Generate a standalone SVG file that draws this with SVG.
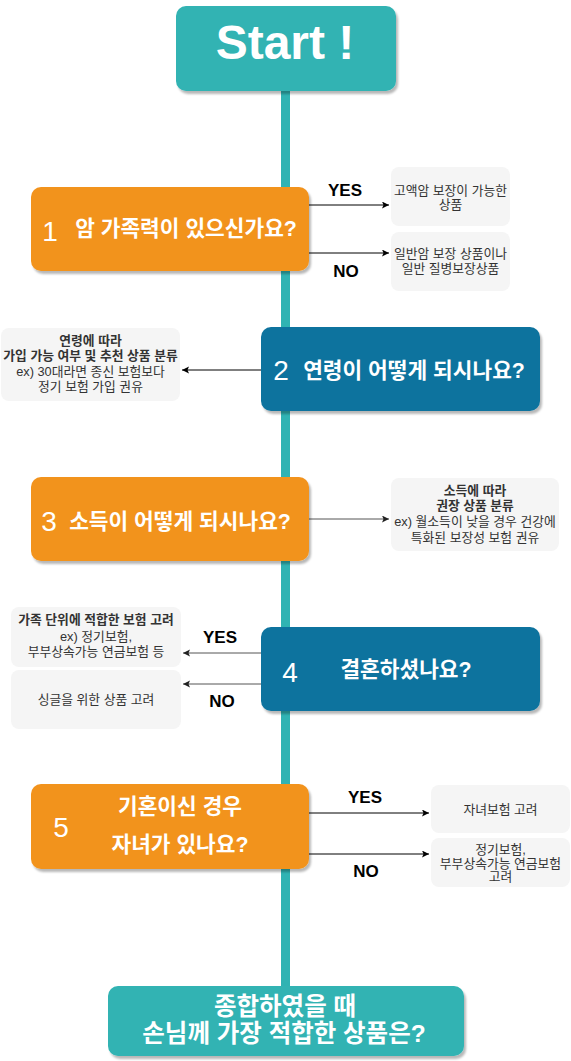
<svg xmlns="http://www.w3.org/2000/svg" width="571" height="1061" viewBox="0 0 571 1061">
<style>
.q{font-family:"Liberation Sans","Noto Sans CJK KR",sans-serif;font-weight:bold;fill:#fff;text-anchor:middle}
.t{font-size:21.4px}
.num{font-family:"Liberation Sans","Noto Sans CJK KR",sans-serif;font-size:28px;fill:#fff;text-anchor:middle}
.s{font-family:"Liberation Sans","Noto Sans CJK KR",sans-serif;font-size:12.8px;fill:#333;text-anchor:middle}
.b{font-weight:bold}
.lbl{font-family:"Liberation Sans","Noto Sans CJK KR",sans-serif;font-size:17px;font-weight:bold;fill:#000;text-anchor:middle}
.gray{fill:#f5f5f5}
.teal{fill:#30b3b3}
.orange{fill:#f2931e}
.blue{fill:#10739e}
.ln{stroke:#000;stroke-width:1;fill:none}
.ln2{stroke:#555;stroke-width:1;fill:none}
</style>
<defs>
<filter id="sh" x="-10%" y="-10%" width="130%" height="140%">
<feDropShadow dx="2" dy="3" stdDeviation="0.8" flood-color="#000" flood-opacity="0.28"/>
</filter>
<marker id="ah" markerUnits="userSpaceOnUse" markerWidth="8" markerHeight="8" viewBox="0 0 8 8" refX="7" refY="3.5" orient="auto">
<path d="M0,0 L7,3.5 L0,7 L1.5,3.5 z" fill="#000"/>
</marker>
<marker id="ah2" markerUnits="userSpaceOnUse" markerWidth="8" markerHeight="8" viewBox="0 0 8 8" refX="7" refY="3.5" orient="auto">
<path d="M0,0 L7,3.5 L0,7 L1.5,3.5 z" fill="#222"/>
</marker>
</defs>
<rect x="281" y="88" width="9" height="900" class="teal"/>
<g id="connectors">
<path class="ln" d="M309,205 H389" marker-end="url(#ah)"/>
<path class="ln" d="M309,253 H389" marker-end="url(#ah)"/>
<path class="ln" d="M261,370 H182" marker-end="url(#ah)"/>
<path class="ln2" d="M309,519 H389" marker-end="url(#ah2)"/>
<path class="ln2" d="M261,653 H183" marker-end="url(#ah2)"/>
<path class="ln2" d="M261,684 H183" marker-end="url(#ah2)"/>
<path class="ln" d="M309,813 H429" marker-end="url(#ah)"/>
<path class="ln" d="M309,854 H429" marker-end="url(#ah)"/>
<text class="lbl" x="345" y="196">YES</text>
<text class="lbl" x="346" y="277">NO</text>
<text class="lbl" x="220" y="643">YES</text>
<text class="lbl" x="222" y="707">NO</text>
<text class="lbl" x="365" y="803">YES</text>
<text class="lbl" x="366" y="877">NO</text>
</g>
<g id="start">
<rect x="176" y="6" width="220" height="85" rx="10" class="teal" filter="url(#sh)"/>
<text class="q" x="285" y="59" style="font-size:48px">Start !</text>
</g>
<g id="q1">
<rect x="31" y="187" width="278" height="84" rx="10" class="orange" filter="url(#sh)"/>
<text class="num" x="50" y="241">1</text>
<text class="q t" x="186" y="235.5">암 가족력이 있으신가요?</text>
</g>
<g id="a1yes">
<rect x="391" y="167" width="119" height="59" rx="8" class="gray"/>
<text class="s" x="450.5" y="194.5">고액암 보장이 가능한</text>
<text class="s" x="450.5" y="208.5">상품</text>
</g>
<g id="a1no">
<rect x="391" y="232" width="119" height="59" rx="8" class="gray"/>
<text class="s" x="450.5" y="258">일반암 보장 상품이나</text>
<text class="s" x="450.5" y="273">일반 질병보장상품</text>
</g>
<g id="q2">
<rect x="261" y="327" width="279" height="84" rx="10" class="blue" filter="url(#sh)"/>
<text class="num" x="281" y="380">2</text>
<text class="q t" x="414" y="377.5">연령이 어떻게 되시나요?</text>
</g>
<g id="a2">
<rect x="1" y="328" width="179" height="73" rx="8" class="gray"/>
<text class="s b" x="90.5" y="344.5">연령에 따라</text>
<text class="s b" x="90.5" y="360">가입 가능 여부 및 추천 상품 분류</text>
<text class="s" x="90.5" y="375.5">ex) 30대라면 종신 보험보다</text>
<text class="s" x="90.5" y="391">정기 보험 가입 권유</text>
</g>
<g id="q3">
<rect x="31" y="477" width="278" height="84" rx="10" class="orange" filter="url(#sh)"/>
<text class="num" x="49" y="531">3</text>
<text class="q t" x="180" y="528.5">소득이 어떻게 되시나요?</text>
</g>
<g id="a3">
<rect x="391" y="478" width="168" height="73" rx="8" class="gray"/>
<text class="s b" x="475" y="494.5">소득에 따라</text>
<text class="s b" x="475" y="510">권장 상품 분류</text>
<text class="s" x="475" y="526">ex) 월소득이 낮을 경우 건강에</text>
<text class="s" x="475" y="542">특화된 보장성 보험 권유</text>
</g>
<g id="q4">
<rect x="261" y="627" width="279" height="84" rx="10" class="blue" filter="url(#sh)"/>
<text class="num" x="290" y="682">4</text>
<text class="q t" x="406" y="676.5">결혼하셨나요?</text>
</g>
<g id="a4yes">
<rect x="11" y="607" width="170" height="60" rx="8" class="gray"/>
<text class="s b" x="96" y="623.5">가족 단위에 적합한 보험 고려</text>
<text class="s" x="96" y="640.5">ex) 정기보험,</text>
<text class="s" x="96" y="656">부부상속가능 연금보험 등</text>
</g>
<g id="a4no">
<rect x="11" y="670" width="170" height="59" rx="8" class="gray"/>
<text class="s" x="96" y="704">싱글을 위한 상품 고려</text>
</g>
<g id="q5">
<rect x="31" y="784" width="278" height="85" rx="10" class="orange" filter="url(#sh)"/>
<text class="num" x="61" y="837">5</text>
<text class="q t" x="180" y="813.5">기혼이신 경우</text>
<text class="q t" x="180" y="851.5">자녀가 있나요?</text>
</g>
<g id="a5yes">
<rect x="431" y="785" width="139" height="48" rx="8" class="gray"/>
<text class="s" x="500.5" y="814">자녀보험 고려</text>
</g>
<g id="a5no">
<rect x="431" y="838" width="139" height="49" rx="8" class="gray"/>
<text class="s" x="500.5" y="853.5">정기보험,</text>
<text class="s" x="500.5" y="867.5">부부상속가능 연금보험</text>
<text class="s" x="500.5" y="881">고려</text>
</g>
<g id="end">
<rect x="108" y="986" width="356" height="70" rx="10" class="teal" filter="url(#sh)"/>
<text class="q" x="285" y="1015" style="font-size:24.5px">종합하였을 때</text>
<text class="q" x="284" y="1042" style="font-size:24.5px">손님께 가장 적합한 상품은?</text>
</g>
</svg>
